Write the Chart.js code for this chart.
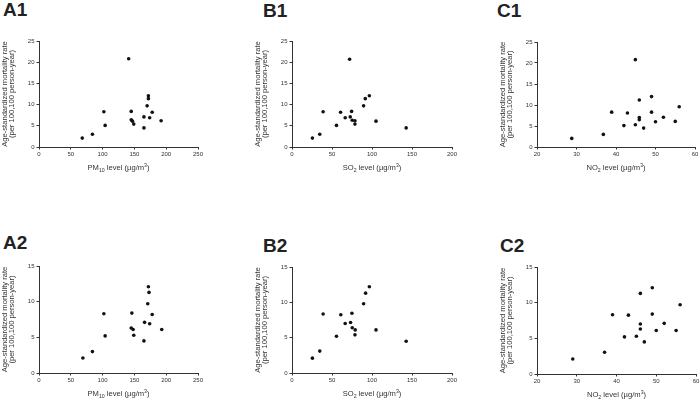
<!DOCTYPE html>
<html><head><meta charset="utf-8">
<script src="https://cdn.jsdelivr.net/npm/chart.js@4.4.1/dist/chart.umd.min.js"></script>
<style>
html,body{margin:0;padding:0;background:#fff;overflow:hidden;width:700px;height:409px}
#wrap{position:relative;width:700px;height:409px;overflow:hidden}
canvas{position:absolute}
.ttl{position:absolute;font-family:"Liberation Sans",Arial,sans-serif;font-weight:bold;font-size:19px;line-height:19px;color:#222;white-space:nowrap}
</style></head><body><div id="wrap"></div>
<script>
// ---------- data ----------
const pm10A1 = [68, 84, 102, 104, 141, 145, 145, 147, 149, 165, 165, 170, 172, 172, 174, 178, 192];
const rateA1 = [2.1, 3.0, 8.3, 5.1, 20.8, 8.4, 6.4, 6.1, 5.4, 4.5, 7.1, 9.7, 12.1, 11.4, 6.9, 8.2, 6.2];

const so2B1  = [25.5, 34.7, 38.9, 55.6, 60.7, 66.5, 72, 72.8, 74.5, 75.3, 78.7, 78.7, 89.5, 91.6, 96.7, 105, 142.7];
const rateB1 = [2.1, 3.0, 8.3, 5.1, 8.2, 6.9, 20.7, 7.1, 8.4, 6.3, 6.2, 5.4, 9.7, 11.4, 12.1, 6.1, 4.5];

const no2C1  = [28.8, 36.8, 38.9, 42, 42.9, 44.9, 44.9, 45.9, 45.9, 45.9, 47, 49, 49, 50, 52, 55, 56];
const rateC1 = [2.05, 3.0, 8.3, 5.1, 8.1, 20.8, 5.3, 11.2, 7.0, 6.5, 4.5, 12.0, 8.3, 6.0, 7.1, 6.1, 9.6];

const pm10A2 = [69, 84, 102, 104, 146, 145, 148, 149, 165, 166, 171, 172, 173, 174, 178, 193];
const rateA2 = [2.1, 3.0, 8.3, 5.2, 8.4, 6.3, 6.1, 5.3, 4.5, 7.1, 9.7, 12.1, 11.3, 6.9, 8.2, 6.1];

const so2B2  = [25.5, 34.7, 38.9, 55.6, 61, 66.5, 73.2, 74.9, 75.3, 79, 78.7, 89.5, 92, 96.7, 105, 142.7];
const rateB2 = [2.1, 3.1, 8.35, 5.2, 8.25, 7.0, 7.15, 8.45, 6.4, 6.1, 5.4, 9.8, 11.3, 12.2, 6.1, 4.5];

const no2C2  = [29, 37, 39, 42, 43, 45, 46, 46, 46, 47, 49, 49, 50, 52, 55, 56];
const rateC2 = [2.1, 3.05, 8.3, 5.2, 8.25, 5.3, 11.3, 7.0, 6.3, 4.5, 12.1, 8.4, 6.1, 7.1, 6.1, 9.7];

// axis ranges [min, max, step]
const pm10Axis = [0, 250, 50];
const so2Axis  = [0, 200, 50];
const no2Axis  = [20, 60, 10];
const rateAxisRow1 = [0, 25, 5];
const rateAxisRow2 = [0, 15, 5];

// text
const panelLabels = ['A1', 'B1', 'C1', 'A2', 'B2', 'C2'];
const yTitleLines = ['Age-standardized mortality rate', '(per 100,100 person-year)'];
const pm10Title = [['PM', ''], ['10', 'sub'], [' level (\u00b5g/m', ''], ['3', 'sup'], [')', '']];
const so2Title  = [['SO', ''], ['2', 'sub'], [' level (\u00b5g/m', ''], ['3', 'sup'], [')', '']];
const no2Title  = [['NO', ''], ['2', 'sub'], [' level (\u00b5g/m', ''], ['3', 'sup'], [')', '']];

// ---------- layout (pixel geometry only) ----------
const FONT = '"Liberation Sans", Arial, Helvetica, sans-serif';
Chart.defaults.font.family = FONT;
const YW = 38, XH = 30, PADT = 8, PADR = 7, PADB = 1;
const panels = [
  {label: panelLabels[0], xs: pm10A1, ys: rateA1, xAxis: pm10Axis, yAxis: rateAxisRow1, xTitle: pm10Title,
   area: {l: 39, r: 198, t: 41, b: 147}, lab: {x: 3, base: 16.3}},
  {label: panelLabels[1], xs: so2B1, ys: rateB1, xAxis: so2Axis, yAxis: rateAxisRow1, xTitle: so2Title,
   area: {l: 292, r: 452, t: 41, b: 147}, lab: {x: 263, base: 17}},
  {label: panelLabels[2], xs: no2C1, ys: rateC1, xAxis: no2Axis, yAxis: rateAxisRow1, xTitle: no2Title,
   area: {l: 537, r: 695, t: 42, b: 147}, lab: {x: 497, base: 17}},
  {label: panelLabels[3], xs: pm10A2, ys: rateA2, xAxis: pm10Axis, yAxis: rateAxisRow2, xTitle: pm10Title,
   area: {l: 39, r: 198, t: 266, b: 373}, lab: {x: 3, base: 249.5}},
  {label: panelLabels[4], xs: so2B2, ys: rateB2, xAxis: so2Axis, yAxis: rateAxisRow2, xTitle: so2Title,
   area: {l: 292, r: 452, t: 267, b: 373}, lab: {x: 263, base: 252}},
  {label: panelLabels[5], xs: no2C2, ys: rateC2, xAxis: no2Axis, yAxis: rateAxisRow2, xTitle: no2Title,
   area: {l: 537, r: 696, t: 267, b: 374}, lab: {x: 500, base: 252}}
];

const xTitlePlugin = {
  id: 'xTitle',
  afterDraw(chart, args, opts) {
    const {ctx, chartArea} = chart;
    const parts = opts.parts || [];
    const big = 7.6, small = 5.2;
    ctx.save();
    let total = 0;
    const ws = parts.map(p => {
      ctx.font = (p[1] ? small : big) + 'px ' + FONT;
      const w = ctx.measureText(p[0]).width;
      total += w;
      return w;
    });
    let x = (chartArea.left + chartArea.right) / 2 - total / 2;
    const y = chartArea.bottom + 23;
    ctx.fillStyle = '#333';
    ctx.textAlign = 'left';
    ctx.textBaseline = 'alphabetic';
    parts.forEach((p, i) => {
      ctx.font = (p[1] ? small : big) + 'px ' + FONT;
      const dy = p[1] === 'sub' ? 1.8 : (p[1] === 'sup' ? -3.2 : 0);
      ctx.fillText(p[0], x, y + dy);
      x += ws[i];
    });
    ctx.restore();
  }
};

const wrap = document.getElementById('wrap');
panels.forEach(p => {
  const a = p.area;
  const left = a.l - YW, top = a.t - PADT;
  const width = (a.r - a.l) + YW + PADR, height = (a.b - a.t) + PADT + XH + PADB;

  const lab = document.createElement('div');
  lab.className = 'ttl';
  lab.textContent = p.label;
  lab.style.left = p.lab.x + 'px';
  lab.style.top = (p.lab.base - 16.1) + 'px';
  wrap.appendChild(lab);

  const cv = document.createElement('canvas');
  cv.width = width; cv.height = height;
  cv.style.left = left + 'px'; cv.style.top = top + 'px';
  cv.style.width = width + 'px'; cv.style.height = height + 'px';
  wrap.appendChild(cv);

  const pts = p.xs.map((x, i) => ({x: x, y: p.ys[i]}));
  const axisCommon = {
    grid: {display: true, drawOnChartArea: false, drawTicks: true, tickLength: 2.5, color: '#333', lineWidth: 1},
    border: {display: true, color: '#333', width: 1}
  };
  new Chart(cv, {
    type: 'scatter',
    data: {datasets: [{data: pts, pointRadius: 1.8, pointBackgroundColor: '#111', pointBorderWidth: 0, pointHoverRadius: 1.8}]},
    plugins: [xTitlePlugin],
    options: {
      responsive: false, animation: false, events: [],
      devicePixelRatio: 1,
      layout: {padding: {left: 0, top: PADT, right: PADR, bottom: PADB}},
      plugins: {legend: {display: false}, tooltip: {enabled: false}, xTitle: {parts: p.xTitle}},
      scales: {
        x: Object.assign({}, axisCommon, {
          type: 'linear', position: 'bottom', min: p.xAxis[0], max: p.xAxis[1],
          ticks: {stepSize: p.xAxis[2], font: {size: 6}, color: '#333', padding: 1, maxRotation: 0, autoSkip: false},
          afterFit(s) { s.height = XH; }
        }),
        y: Object.assign({}, axisCommon, {
          type: 'linear', position: 'left', min: p.yAxis[0], max: p.yAxis[1],
          ticks: {stepSize: p.yAxis[2], font: {size: 6}, color: '#333', padding: 2, autoSkip: false},
          title: {display: true, text: yTitleLines, color: '#333', font: {size: 7.6, lineHeight: 1.0}, padding: 0},
          afterFit(s) { s.width = YW; }
        })
      }
    }
  });
});
</script>
</body></html>
